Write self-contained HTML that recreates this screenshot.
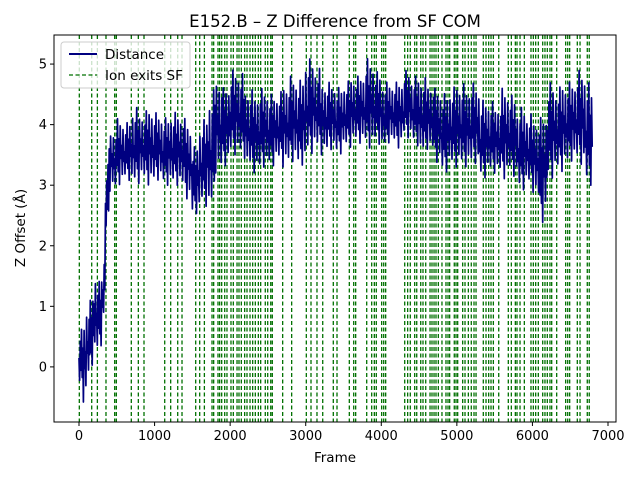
<!DOCTYPE html>
<html><head><meta charset="utf-8"><style>
body{margin:0;background:#fff}
svg{display:block;font-family:"DejaVu Sans","Liberation Sans",sans-serif}
</style></head><body>
<svg id="chart" width="640" height="480">
<rect width="640" height="480" fill="#fff"/>
<g id="vlines"></g>
<g id="series"></g>
<rect x="54" y="35" width="562" height="387" fill="none" stroke="#000" stroke-width="1"/>
<g id="xticks"></g>
<g id="yticks"></g>
<text x="335" y="27" text-anchor="middle" font-size="16.5">E152.B – Z Difference from SF COM</text>
<text x="335" y="462" text-anchor="middle" font-size="13.5">Frame</text>
<text transform="translate(25,228) rotate(-90)" text-anchor="middle" font-size="13.5">Z Offset (Å)</text>
<g>
<rect x="61" y="42" width="129" height="46" rx="3" fill="#fff" fill-opacity="0.8" stroke="#ccc"/>
<line x1="69" y1="54" x2="97" y2="54" stroke="#000080" stroke-width="2"/>
<text x="105" y="59" font-size="13.5">Distance</text>
<line x1="69" y1="75" x2="97" y2="75" stroke="#007000" stroke-width="1.2" stroke-dasharray="4,2.5"/>
<text x="105" y="80" font-size="13.5">Ion exits SF</text>
</g>
</svg>
<script>
const exitFrames=[4,168,243,357,472,494,692,785,860,1134,1213,1306,1363,1544,1597,1659,1760,1782,1839,1861,1888,1928,1958,2011,2042,2091,2117,2148,2192,2223,2263,2298,2333,2373,2404,2465,2497,2537,2558,2695,2814,3008,3070,3149,3225,3365,3414,3577,3635,3661,3807,3873,3908,3934,4005,4032,4058,4310,4349,4384,4442,4469,4522,4552,4588,4645,4671,4698,4724,4755,4803,4856,4883,4905,4966,4989,5011,5077,5108,5152,5191,5227,5254,5350,5386,5421,5452,5483,5554,5681,5721,5774,5796,5836,5893,5981,6012,6043,6078,6136,6166,6197,6232,6255,6321,6440,6467,6493,6594,6630,6726,6752];
const segFrames=[0,50,100,150,200,250,300,350,400,500,600,700,800,900,1000,1100,1200,1300,1400,1500,1600,1700,1800,1900,2000,2100,2200,2300,2400,2500,2600,2700,2800,2900,3000,3100,3200,3300,3400,3500,3600,3700,3800,3900,4000,4100,4200,4300,4400,4500,4600,4700,4800,4900,5000,5100,5200,5300,5400,5500,5600,5700,5800,5900,6000,6100,6200,6300,6400,6500,6600,6700,6800];
const segLo=[-0.3,-0.6,-0.2,0.0,0.2,0.3,0.5,2.2,2.9,3.0,3.1,3.0,3.1,3.0,3.1,3.0,3.0,3.0,2.8,2.5,2.7,2.5,3.2,3.3,3.5,3.5,3.3,3.2,3.3,3.3,3.4,3.3,3.4,3.3,3.5,3.6,3.5,3.6,3.5,3.6,3.7,3.7,3.6,3.7,3.6,3.7,3.6,3.8,3.7,3.5,3.6,3.4,3.2,3.3,3.3,3.3,3.4,3.1,3.2,3.2,3.1,3.2,2.9,3.0,2.9,2.3,3.1,3.2,3.3,3.4,3.4,3.0,3.0];
const segHi=[0.6,0.7,1.0,1.1,1.6,1.4,1.5,3.2,3.9,4.1,4.0,4.3,4.2,4.3,4.2,4.1,4.2,4.2,4.1,3.6,4.0,4.5,4.8,4.6,4.9,4.9,4.6,4.5,4.6,4.5,4.5,4.7,4.8,4.7,5.1,5.0,4.7,4.7,4.6,4.7,4.8,4.8,5.1,4.9,4.7,4.7,4.7,4.9,4.8,4.8,4.7,4.6,4.5,4.6,4.7,4.6,4.7,4.4,4.4,4.3,4.6,4.5,4.3,4.2,4.1,4.1,4.7,4.6,4.7,4.7,4.9,4.8,4.0];
const xTicks=[0,1000,2000,3000,4000,5000,6000,7000];
const yTicks=[0,1,2,3,4,5];
const X0=-331,X1=7106,Y0=-0.91,Y1=5.48,L=54,R=616,T=35,B=422;
const xs=v=>L+(v-X0)/(X1-X0)*(R-L);
const ys=v=>B-(v-Y0)/(Y1-Y0)*(B-T);
const NS='http://www.w3.org/2000/svg';
function mk(tag,attrs,parent){const e=document.createElementNS(NS,tag);for(const k in attrs)e.setAttribute(k,attrs[k]);parent.appendChild(e);return e;}
const vg=document.getElementById('vlines');
exitFrames.forEach(f=>{
 const l=mk('line',{x1:xs(f),x2:xs(f),y1:T,y2:B,stroke:'#007000','stroke-width':1.3,'stroke-dasharray':'4,2.5'},vg);
 
 
});
const pat=[0.5,0.1,0.8,0.3,1.0,0.2,0.7,0.0,0.9,0.4,0.6,0.15,0.85,0.35];
let pts=[],k=0;
for(let i=0;i<segFrames.length-1;i++){
 const f0=segFrames[i],f1=segFrames[i+1];
 const n=Math.max(4,Math.round((f1-f0)/9));
 for(let j=0;j<n;j++){
  const t=j/n,f=f0+t*(f1-f0);
  const lo=segLo[i]+(segLo[i+1]-segLo[i])*t*0.3,hi=segHi[i]+(segHi[i+1]-segHi[i])*t*0.3;
  const v=lo+(hi-lo)*pat[k++%pat.length];
  pts.push(xs(f).toFixed(1)+','+ys(v).toFixed(1));
 }
}
const sl=mk('polyline',{points:pts.join(' '),fill:'none',stroke:'#000080','stroke-width':1.7,'stroke-linejoin':'round'},document.getElementById('series'));


const xg=document.getElementById('xticks');
xTicks.forEach(v=>{
 const t=mk('line',{x1:xs(v),x2:xs(v),y1:B,y2:B+4,stroke:'#000'},xg);
 
 
 const tx=mk('text',{x:xs(v),y:B+18,'text-anchor':'middle','font-size':13},xg);
 tx.textContent=v;
 
 
});
const yg=document.getElementById('yticks');
yTicks.forEach(v=>{
 const t=mk('line',{x1:L-4,x2:L,y1:ys(v),y2:ys(v),stroke:'#000'},yg);
 
 
 const tx=mk('text',{x:L-7,y:ys(v)+4.5,'text-anchor':'end','font-size':13},yg);
 tx.textContent=v;
 
 
});
</script>
</body></html>
